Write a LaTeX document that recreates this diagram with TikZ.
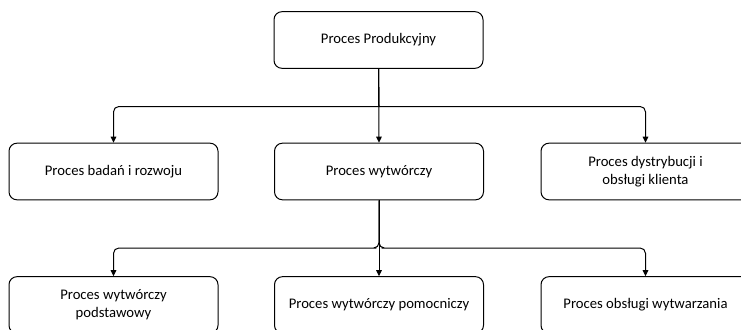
\documentclass[tikz,border=0pt]{standalone}
\usepackage{fontspec}
\setmainfont{Carlito}
\usetikzlibrary{arrows.meta}
\begin{document}
\begin{tikzpicture}[x=0.75pt,y=-0.75pt,
  procbox/.style={draw=black,line width=0.75pt,rounded corners=6pt,
    minimum width=156.75pt,minimum height=42.5pt,align=center,
    inner sep=0pt,font=\fontsize{11pt}{13.5pt}\selectfont},
  conn/.style={draw=black,line width=0.75pt,
    -{Triangle[length=4.5pt,width=4.2pt]}}]
\useasboundingbox (0,0) rectangle (741,329);
\clip (0,0) rectangle (741,329);

% top level
\node[procbox] (prod) at (378.5,40) {Proces Produkcyjny};

% second level
\node[procbox] (rnd)  at (113.5,171.5) {Proces badań i rozwoju};
\node[procbox] (wyt)  at (379,171.5)   {Proces wytwórczy};
\node[procbox] (dyst) at (645.5,171.5) {Proces dystrybucji i\\obsługi klienta};

% third level
\node[procbox] (podst) at (113.5,305) {Proces wytwórczy\\podstawowy};
\node[procbox] (pomoc) at (379,305)   {Proces wytwórczy pomocniczy};
\node[procbox] (obsl)  at (645.5,305) {Proces obsługi wytwarzania};

% branch points
\coordinate (j1) at (379,106.5);
\coordinate (j2) at (379,248);

% connectors from the top box (sharp at the branch, rounded at the far bend)
\draw[conn] (prod.south) -- (j1) -- ([xshift=-20]j1) [rounded corners=4pt] -| (rnd.north);
\draw[conn] (prod.south) -- (j1) -- ([xshift=20]j1) [rounded corners=4pt] -| (dyst.north);
\draw[conn] (prod.south) -- (wyt.north);

% connectors from the production process
\draw[conn,rounded corners=4pt] (wyt.south) |- ([xshift=-6]j2) -| (podst.north);
\draw[conn,rounded corners=4pt] (wyt.south) |- ([xshift=6]j2) -| (obsl.north);
\draw[conn] (wyt.south) -- (pomoc.north);
\end{tikzpicture}
\end{document}
